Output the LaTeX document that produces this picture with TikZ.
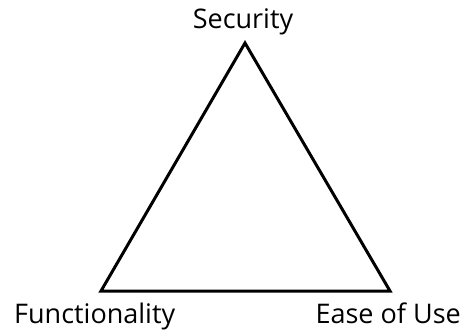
\documentclass[tikz,border=0pt]{standalone}
\usepackage{fontspec}
\setmainfont{Open Sans}
\usetikzlibrary{positioning}
\tikzset{corner/.style={font=\fontsize{27}{32}\selectfont,inner sep=0pt}}

\begin{document}
\begin{tikzpicture}[x=1pt,y=-1pt]
    \useasboundingbox (0,0) rectangle (462,329);
    \coordinate (sec) at (245,43);
    \coordinate (fun) at (101,291);
    \coordinate (eou) at (390,291);
    \draw[line width=3pt,line join=miter] (sec)--(fun)--(eou)--cycle;
    \node[corner,anchor=base] (seclabel) at (243,29){Security};
    \node[corner,anchor=base west] (funlabel) at (14,323){Functionality};
    \node[corner,anchor=base east] (eoulabel) at (461,323){Ease of Use};
\end{tikzpicture}
\end{document}
